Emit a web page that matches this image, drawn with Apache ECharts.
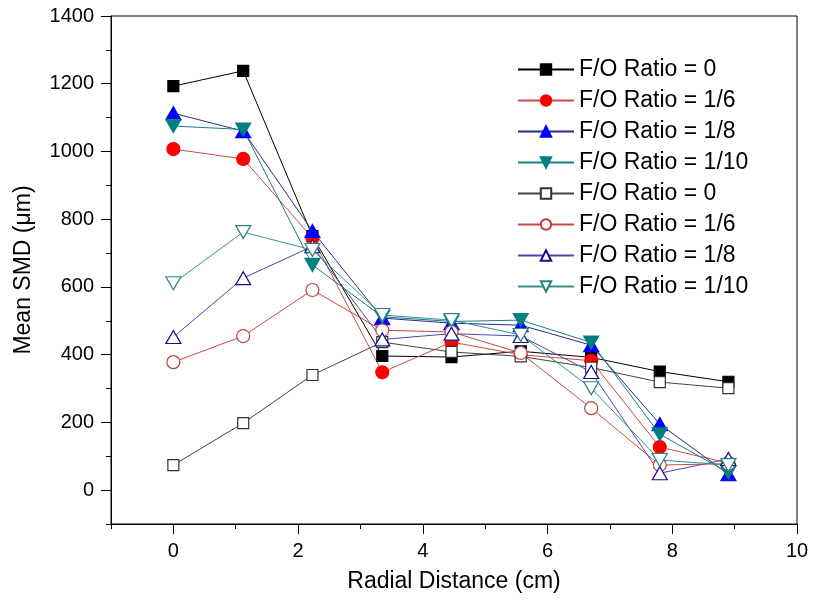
<!DOCTYPE html>
<html>
<head>
<meta charset="utf-8">
<script src="https://cdn.jsdelivr.net/npm/echarts@6/dist/echarts.min.js"></script>
<style>html,body{margin:0;padding:0;background:#fff;}#c{width:818px;height:609px;}</style>
</head>
<body>
<div id="c"></div>
<script>
const radialDistance = [0, 1.12, 2.23, 3.35, 4.46, 5.57, 6.7, 7.8, 8.9];
const seriesNames = ['F/O Ratio = 0', 'F/O Ratio = 1/6', 'F/O Ratio = 1/8', 'F/O Ratio = 1/10',
                     'F/O Ratio = 0', 'F/O Ratio = 1/6', 'F/O Ratio = 1/8', 'F/O Ratio = 1/10'];
const filled0  = [1193, 1238, 750, 396, 393, 410, 392, 350, 320];
const filled6  = [1007, 978, 745, 348, 437, 400, 382, 127, 80];
const filled8  = [1113, 1060, 765, 508, 493, 487, 428, 195, 47];
const filled10 = [1075, 1065, 665, 512, 498, 502, 436, 165, 52];
const open0    = [74, 198, 340, 437, 408, 395, 362, 319, 301];
const open6    = [378, 455, 591, 472, 467, 405, 242, 74, 78];
const open8    = [452, 626, 720, 445, 462, 455, 349, 50, 92];
const open10   = [611, 762, 709, 517, 502, 458, 301, 89, 74];
const yTicks = [0, 200, 400, 600, 800, 1000, 1200, 1400];
const yMinorTicks = [-100, 100, 300, 500, 700, 900, 1100, 1300];
const xTicks = [0, 2, 4, 6, 8, 10];
const xMinorTicks = [-1, 1, 3, 5, 7, 9];

const FONT = 'Liberation Sans, Arial, sans-serif';
const downTri = 'path://M0,0 L10,0 L5,9 Z';
const upTri = 'path://M5,0 L10,9 L0,9 Z';

function pairs(ys) { return ys.map((v, i) => [radialDistance[i], v]); }

const defs = [
  {data: filled0,  symbol: 'rect',   size: 11, line: '#000000', fill: '#000000', border: '#000000'},
  {data: filled6,  symbol: 'circle', size: 13, line: '#d04a4a', fill: '#ff0000', border: '#ff0000'},
  {data: filled8,  symbol: upTri,    size: [15, 13], line: '#2a2a90', fill: '#0000ff', border: '#0000ff'},
  {data: filled10, symbol: downTri,  size: [15, 13], line: '#138080', fill: '#008080', border: '#008080'},
  {data: open0,    symbol: 'rect',   size: 11, line: '#444444', fill: '#ffffff', border: '#333333'},
  {data: open6,    symbol: 'circle', size: 13, line: '#c84848', fill: '#ffffff', border: '#c04040'},
  {data: open8,    symbol: upTri,    size: [15, 13], line: '#4a4aa8', fill: '#ffffff', border: '#10108a'},
  {data: open10,   symbol: downTri,  size: [15, 13], line: '#3a9090', fill: '#ffffff', border: '#2a8585'}
];

const series = defs.map((d, i) => ({
  name: seriesNames[i] + (i >= 4 ? ' ' : ''),
  type: 'line',
  xAxisIndex: 0,
  yAxisIndex: 0,
  data: pairs(d.data),
  symbol: d.symbol,
  symbolSize: d.size,
  showAllSymbol: true,
  animation: false,
  lineStyle: {color: d.line, width: 1},
  itemStyle: {color: d.fill, borderColor: d.border, borderWidth: 1.2},
  emphasis: {disabled: true}
}));

const chart = echarts.init(document.getElementById('c'), null, {renderer: 'canvas'});
chart.setOption({
  backgroundColor: '#ffffff',
  animation: false,
  textStyle: {fontFamily: FONT},
  grid: {left: 111, right: 21, top: 16, bottom: 85, show: true, borderColor: '#000', borderWidth: 1, backgroundColor: 'transparent'},
  legend: {
    orient: 'vertical',
    left: 512,
    top: 53,
    itemWidth: 56,
    itemHeight: 13,
    itemGap: 8,
    data: series.map(s => s.name),
    textStyle: {fontSize: 23, color: '#000', fontFamily: FONT, padding: [0, 0, 0, 0]},
    formatter: n => n.trim(),
    selectedMode: false
  },
  xAxis: [
    {
      type: 'value', min: -1, max: 10, position: 'bottom',
      name: 'Radial Distance (cm)', nameLocation: 'middle', nameGap: 46,
      nameTextStyle: {fontSize: 23, color: '#000', fontFamily: FONT},
      axisLine: {show: true, onZero: false, lineStyle: {color: '#000', width: 1}},
      axisTick: {show: true, inside: false, length: 10, customValues: xTicks, lineStyle: {color: '#000'}},
      axisLabel: {customValues: xTicks, fontSize: 20, color: '#000', margin: 17, fontFamily: FONT, formatter: v => String(v)},
      splitLine: {show: false}
    },
    {
      type: 'value', min: -1, max: 10, position: 'bottom', offset: 0,
      axisLine: {show: false, onZero: false},
      axisTick: {show: true, inside: false, length: 5, customValues: xMinorTicks, lineStyle: {color: '#000'}},
      axisLabel: {show: false},
      splitLine: {show: false}
    }
  ],
  yAxis: [
    {
      type: 'value', min: -100, max: 1400, position: 'left',
      name: 'Mean SMD (\u03bcm)', nameLocation: 'middle', nameGap: 76, nameRotate: 90,
      nameTextStyle: {fontSize: 23, color: '#000', fontFamily: FONT},
      axisLine: {show: true, onZero: false, lineStyle: {color: '#000', width: 1}},
      axisTick: {show: true, inside: false, length: 10, customValues: yTicks, lineStyle: {color: '#000'}},
      axisLabel: {customValues: yTicks, fontSize: 20, color: '#000', margin: 17, fontFamily: FONT, formatter: v => String(v)},
      splitLine: {show: false}
    },
    {
      type: 'value', min: -100, max: 1400, position: 'left', offset: 0,
      axisLine: {show: false, onZero: false},
      axisTick: {show: true, inside: false, length: 5, customValues: yMinorTicks, lineStyle: {color: '#000'}},
      axisLabel: {show: false},
      splitLine: {show: false}
    }
  ],
  series: series
});
</script>
</body>
</html>
